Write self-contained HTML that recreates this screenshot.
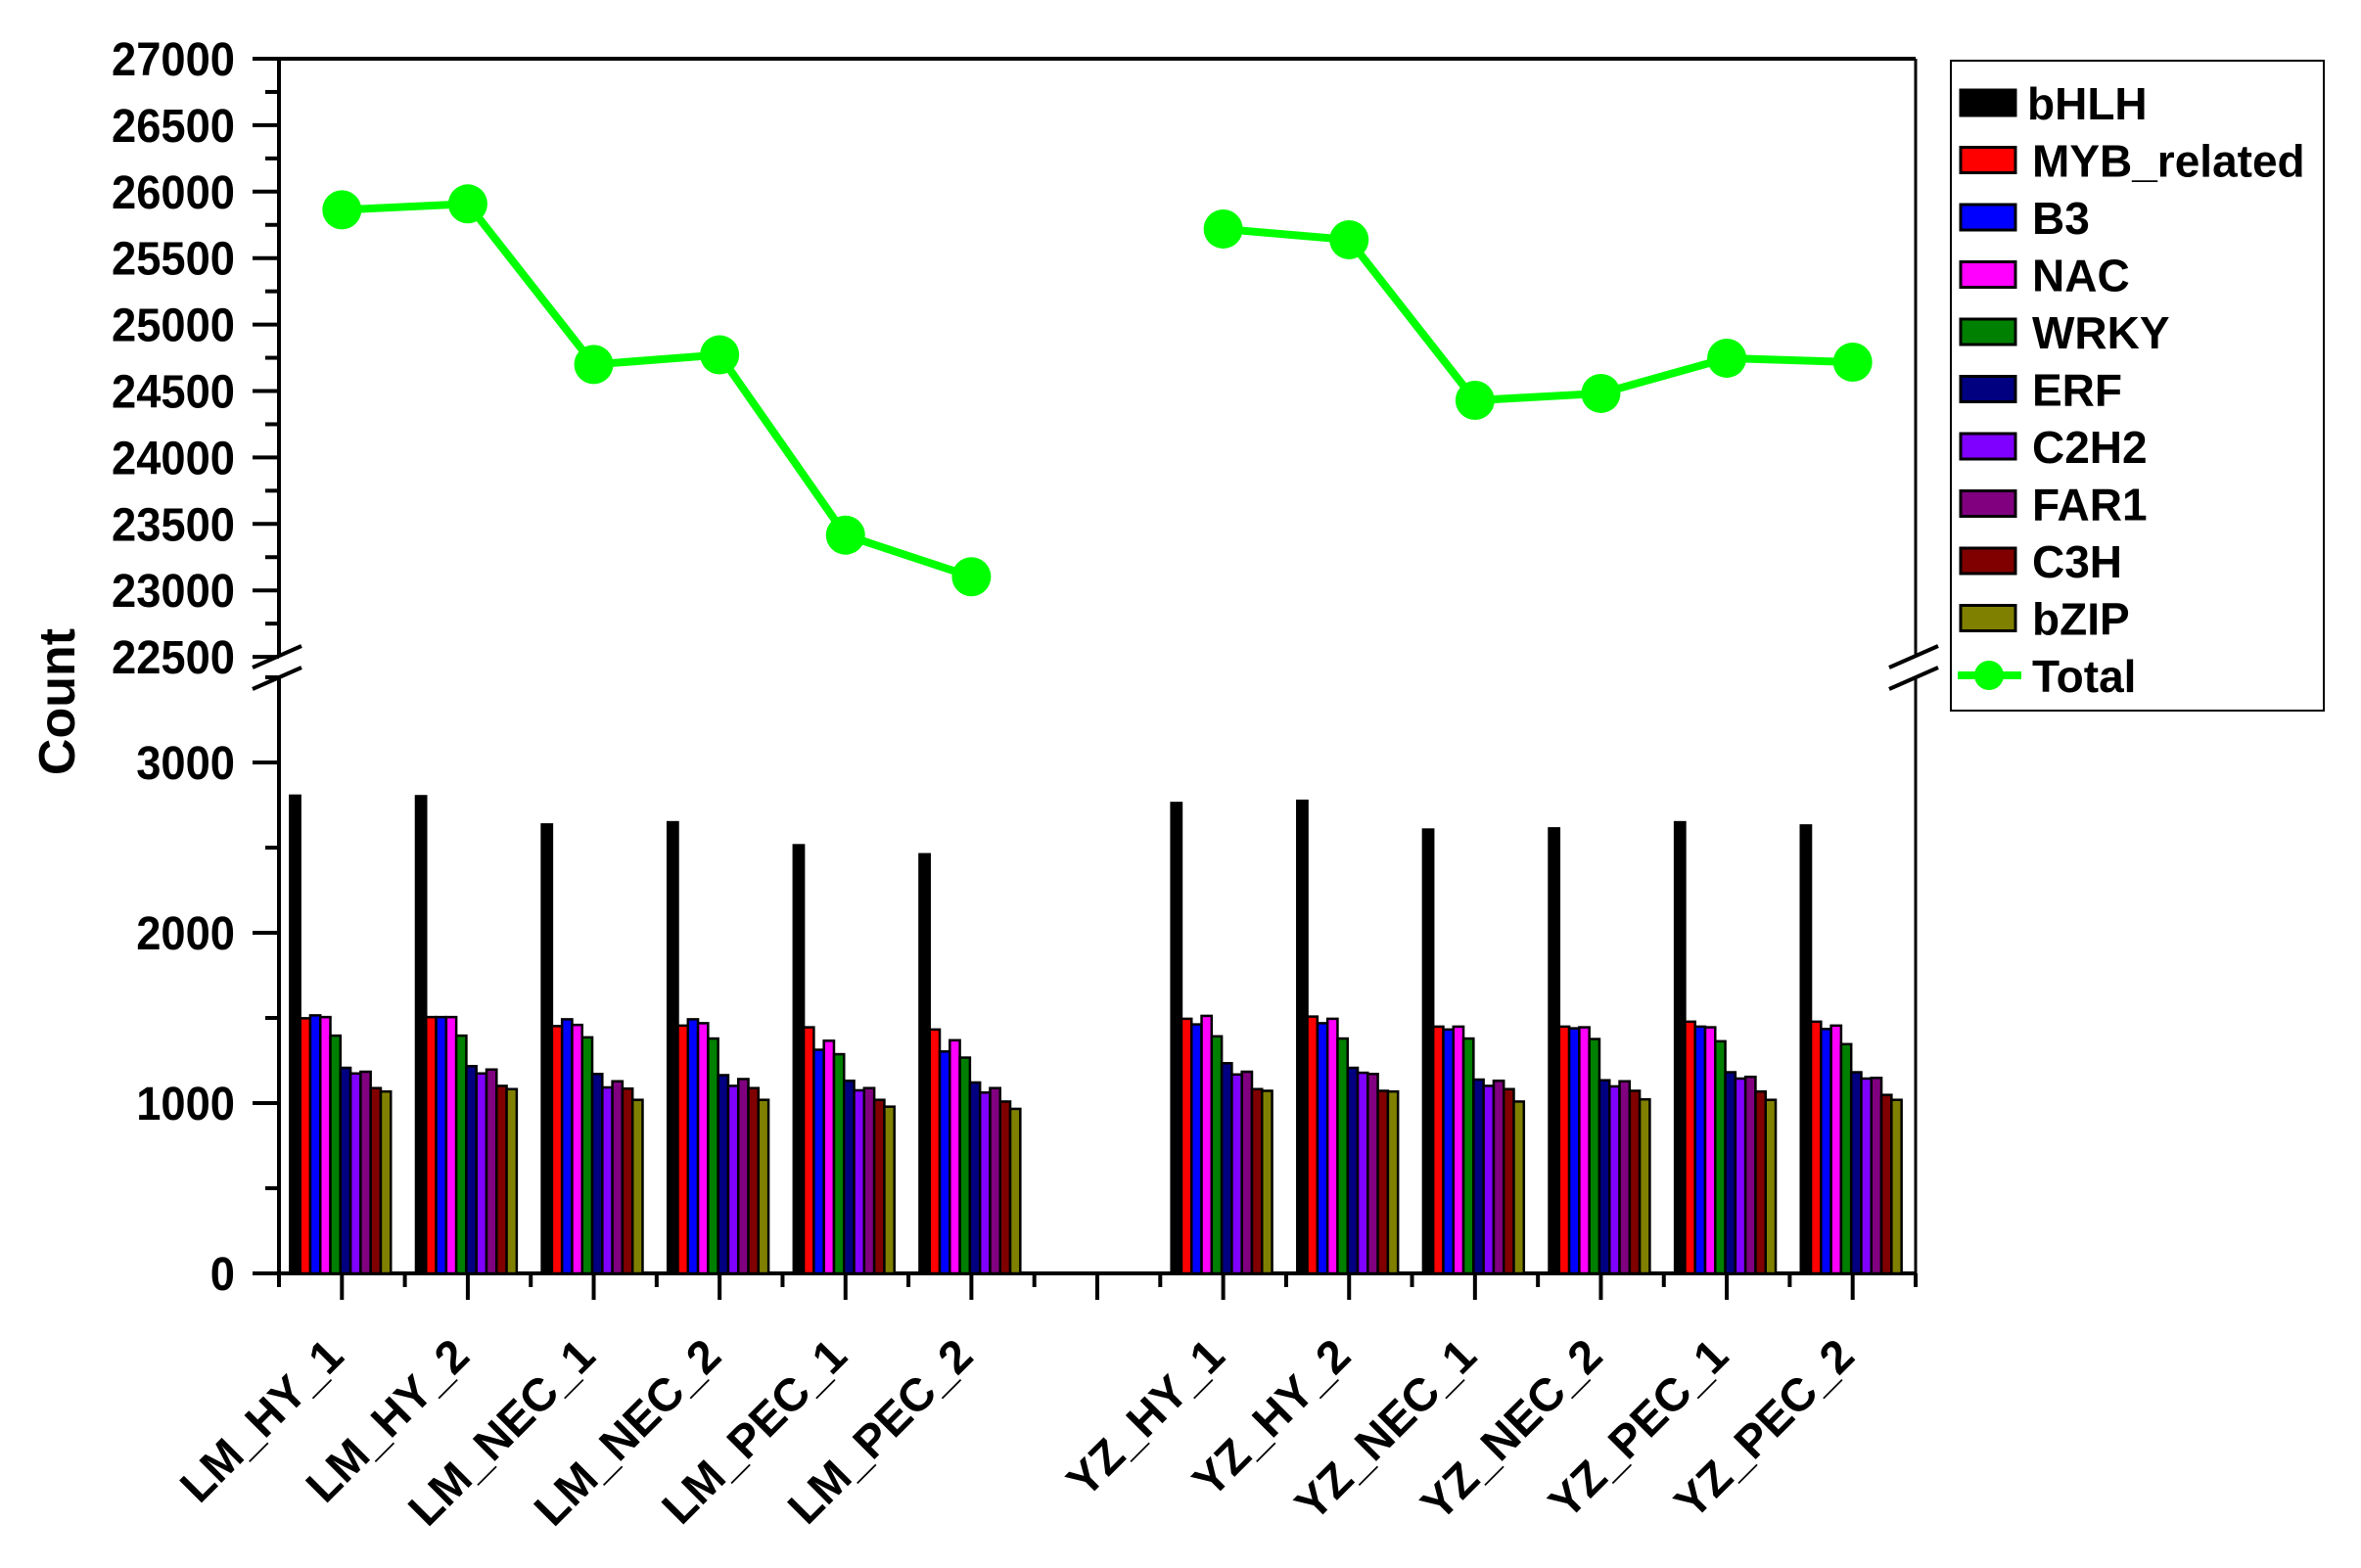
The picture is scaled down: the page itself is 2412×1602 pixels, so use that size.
<!DOCTYPE html>
<html><head><meta charset="utf-8"><style>
html,body{margin:0;padding:0;background:#fff;}
svg{display:block;font-family:"Liberation Sans",Arial,sans-serif;font-weight:bold;}
</style></head><body>
<svg id="chart" xmlns="http://www.w3.org/2000/svg" width="2412" height="1602" viewBox="0 0 2412 1602">
<g id="axes"></g>
<g id="bars"></g>
<g id="line"></g>
<g id="legend"></g>
<text transform="translate(76,717) rotate(-90)" text-anchor="middle" font-size="52">Count</text>
</svg>
<script>
const categories = ["LM_HY_1","LM_HY_2","LM_NEC_1","LM_NEC_2","LM_PEC_1","LM_PEC_2","","YZ_HY_1","YZ_HY_2","YZ_NEC_1","YZ_NEC_2","YZ_PEC_1","YZ_PEC_2"];
const families = ["bHLH","MYB_related","B3","NAC","WRKY","ERF","C2H2","FAR1","C3H","bZIP"];
const familyColors = ["#000000","#ff0000","#0000ff","#ff00ff","#008000","#000080","#8000ff","#800080","#800000","#808000"];
const bHLH = [2805,2802,2636,2649,2514,2461,null,2762,2775,2606,2613,2649,2630];
const MYB_related = [1498,1505,1452,1455,1445,1432,null,1495,1508,1449,1449,1478,1478];
const B3 = [1515,1505,1492,1492,1313,1303,null,1462,1469,1432,1439,1449,1435];
const NAC = [1505,1505,1459,1469,1366,1369,null,1512,1495,1449,1445,1445,1455];
const WRKY = [1396,1396,1386,1379,1287,1267,null,1392,1379,1379,1376,1363,1346];
const ERF = [1207,1217,1171,1164,1131,1121,null,1234,1207,1138,1134,1181,1181];
const C2H2 = [1174,1174,1092,1101,1075,1062,null,1168,1178,1101,1098,1144,1144];
const FAR1 = [1184,1197,1128,1141,1088,1088,null,1184,1171,1131,1128,1154,1148];
const C3H = [1088,1101,1085,1088,1019,1009,null,1082,1072,1082,1072,1068,1048];
const bZIP = [1068,1082,1019,1019,979,966,null,1072,1068,1009,1022,1019,1019];
const total = [25863,25908,24700,24772,23416,23103,null,25719,25638,24430,24482,24747,24717];
const upperTicks = [22500,23000,23500,24000,24500,25000,25500,26000,26500,27000];
const lowerTicks = [0,1000,2000,3000];

const series = [bHLH,MYB_related,B3,NAC,WRKY,ERF,C2H2,FAR1,C3H,bZIP];
const NS="http://www.w3.org/2000/svg";
function mk(tag,attrs,parent){const e=document.createElementNS(NS,tag);for(const k in attrs)e.setAttribute(k,attrs[k]);parent.appendChild(e);return e;}
const X0=285,X1=1957,slot=(X1-X0)/categories.length;
const xc=i=>X0+slot*(i+0.5);
const yUp=v=>60+(27000-v)/500*67.9;
const yLo=v=>1301-v*0.174;
const axes=document.getElementById('axes');
let e;
e=mk('line',{x1:258,y1:60,x2:X1,y2:60,stroke:'#000','stroke-width':4},axes);

e=mk('line',{x1:X0,y1:60,x2:X0,y2:671,stroke:'#000','stroke-width':4},axes);

e=mk('line',{x1:X0,y1:693,x2:X0,y2:1301,stroke:'#000','stroke-width':4},axes);

e=mk('line',{x1:X1,y1:60,x2:X1,y2:671,stroke:'#000','stroke-width':3},axes);

e=mk('line',{x1:X1,y1:693,x2:X1,y2:1301,stroke:'#000','stroke-width':3},axes);

e=mk('line',{x1:258,y1:1301,x2:X1,y2:1301,stroke:'#000','stroke-width':4},axes);

[[X0,671],[X0,693],[X1,671],[X1,693]].forEach(p=>{
  e=mk('line',{x1:p[0]-27,y1:p[1]+11,x2:p[0]+23,y2:p[1]-11,stroke:'#000','stroke-width':4},axes);
  
});
function tickLabel(v,y){
  const s=String(v);
  e=mk('text',{x:240,y:y+17,'text-anchor':'end','font-size':48,textLength:s.length*25.2,lengthAdjust:'spacingAndGlyphs'},axes);
  e.textContent=s;
  
}
upperTicks.forEach((v,i)=>{
  const y=yUp(v);
  e=mk('line',{x1:258,y1:y,x2:X0,y2:y,stroke:'#000','stroke-width':4},axes);
  
  tickLabel(v,y);
  if(i<upperTicks.length-1){
    const ym=yUp(v+250);
    e=mk('line',{x1:271,y1:ym,x2:X0,y2:ym,stroke:'#000','stroke-width':4},axes);
    
  }
});
lowerTicks.forEach(v=>{
  const y=yLo(v);
  e=mk('line',{x1:258,y1:y,x2:X0,y2:y,stroke:'#000','stroke-width':4},axes);
  
  tickLabel(v,y);
  const ym=yLo(v+500);
  e=mk('line',{x1:271,y1:ym,x2:X0,y2:ym,stroke:'#000','stroke-width':4},axes);
  
});
for(let i=0;i<=categories.length;i++){
  const xb=X0+slot*i;
  e=mk('line',{x1:xb,y1:1301,x2:xb,y2:1315,stroke:'#000','stroke-width':4},axes);
  
}
categories.forEach((c,i)=>{
  const x=xc(i);
  e=mk('line',{x1:x,y1:1301,x2:x,y2:1328,stroke:'#000','stroke-width':4},axes);
  
  if(c){
    e=mk('text',{x:0,y:0,'text-anchor':'end','font-size':47,transform:`translate(${x+4},1388) rotate(-45)`},axes);
    e.textContent=c;
    
  }
});
const bars=document.getElementById('bars');
const gw=slot*0.8,bw=gw/series.length;
categories.forEach((c,i)=>{
  const left=xc(i)-gw/2-1.5;
  series.forEach((s,k)=>{
    const v=s[i]; if(v==null)return;
    const y=yLo(v);
    e=mk('rect',{x:left+k*bw,y:y,width:bw,height:1301-y,fill:familyColors[k],stroke:'#000','stroke-width':2.5},bars);
    
    
  });
});
const line=document.getElementById('line');
[[0,5],[7,12]].forEach(r=>{
  let pts=[];
  for(let i=r[0];i<=r[1];i++)pts.push(xc(i)+','+yUp(total[i]));
  e=mk('polyline',{points:pts.join(' '),fill:'none',stroke:'#00ff00','stroke-width':8},line);
  
});
total.forEach((v,i)=>{
  if(v==null)return;
  e=mk('circle',{cx:xc(i),cy:yUp(v),r:20,fill:'#00ff00'},line);
  
});
const lg=document.getElementById('legend');
e=mk('rect',{x:1993,y:62,width:381,height:664,fill:'#fff',stroke:'#000','stroke-width':2},lg);

families.forEach((f,k)=>{
  const cy=105+k*58.5;
  e=mk('rect',{x:2003,y:cy-13,width:56,height:26,fill:familyColors[k],stroke:'#000','stroke-width':3},lg);
  
  e=mk('text',{x:k==0?2071:2076,y:cy+17,'font-size':46},lg);
  e.textContent=f;
  
});
const ty=105+10*58.5;
e=mk('line',{x1:2000,y1:ty,x2:2065,y2:ty,stroke:'#00ff00','stroke-width':8},lg);

e=mk('circle',{cx:2032,cy:ty,r:15,fill:'#00ff00'},lg);

e=mk('text',{x:2076,y:ty+17,'font-size':46},lg);
e.textContent='Total';

</script>
</body></html>
